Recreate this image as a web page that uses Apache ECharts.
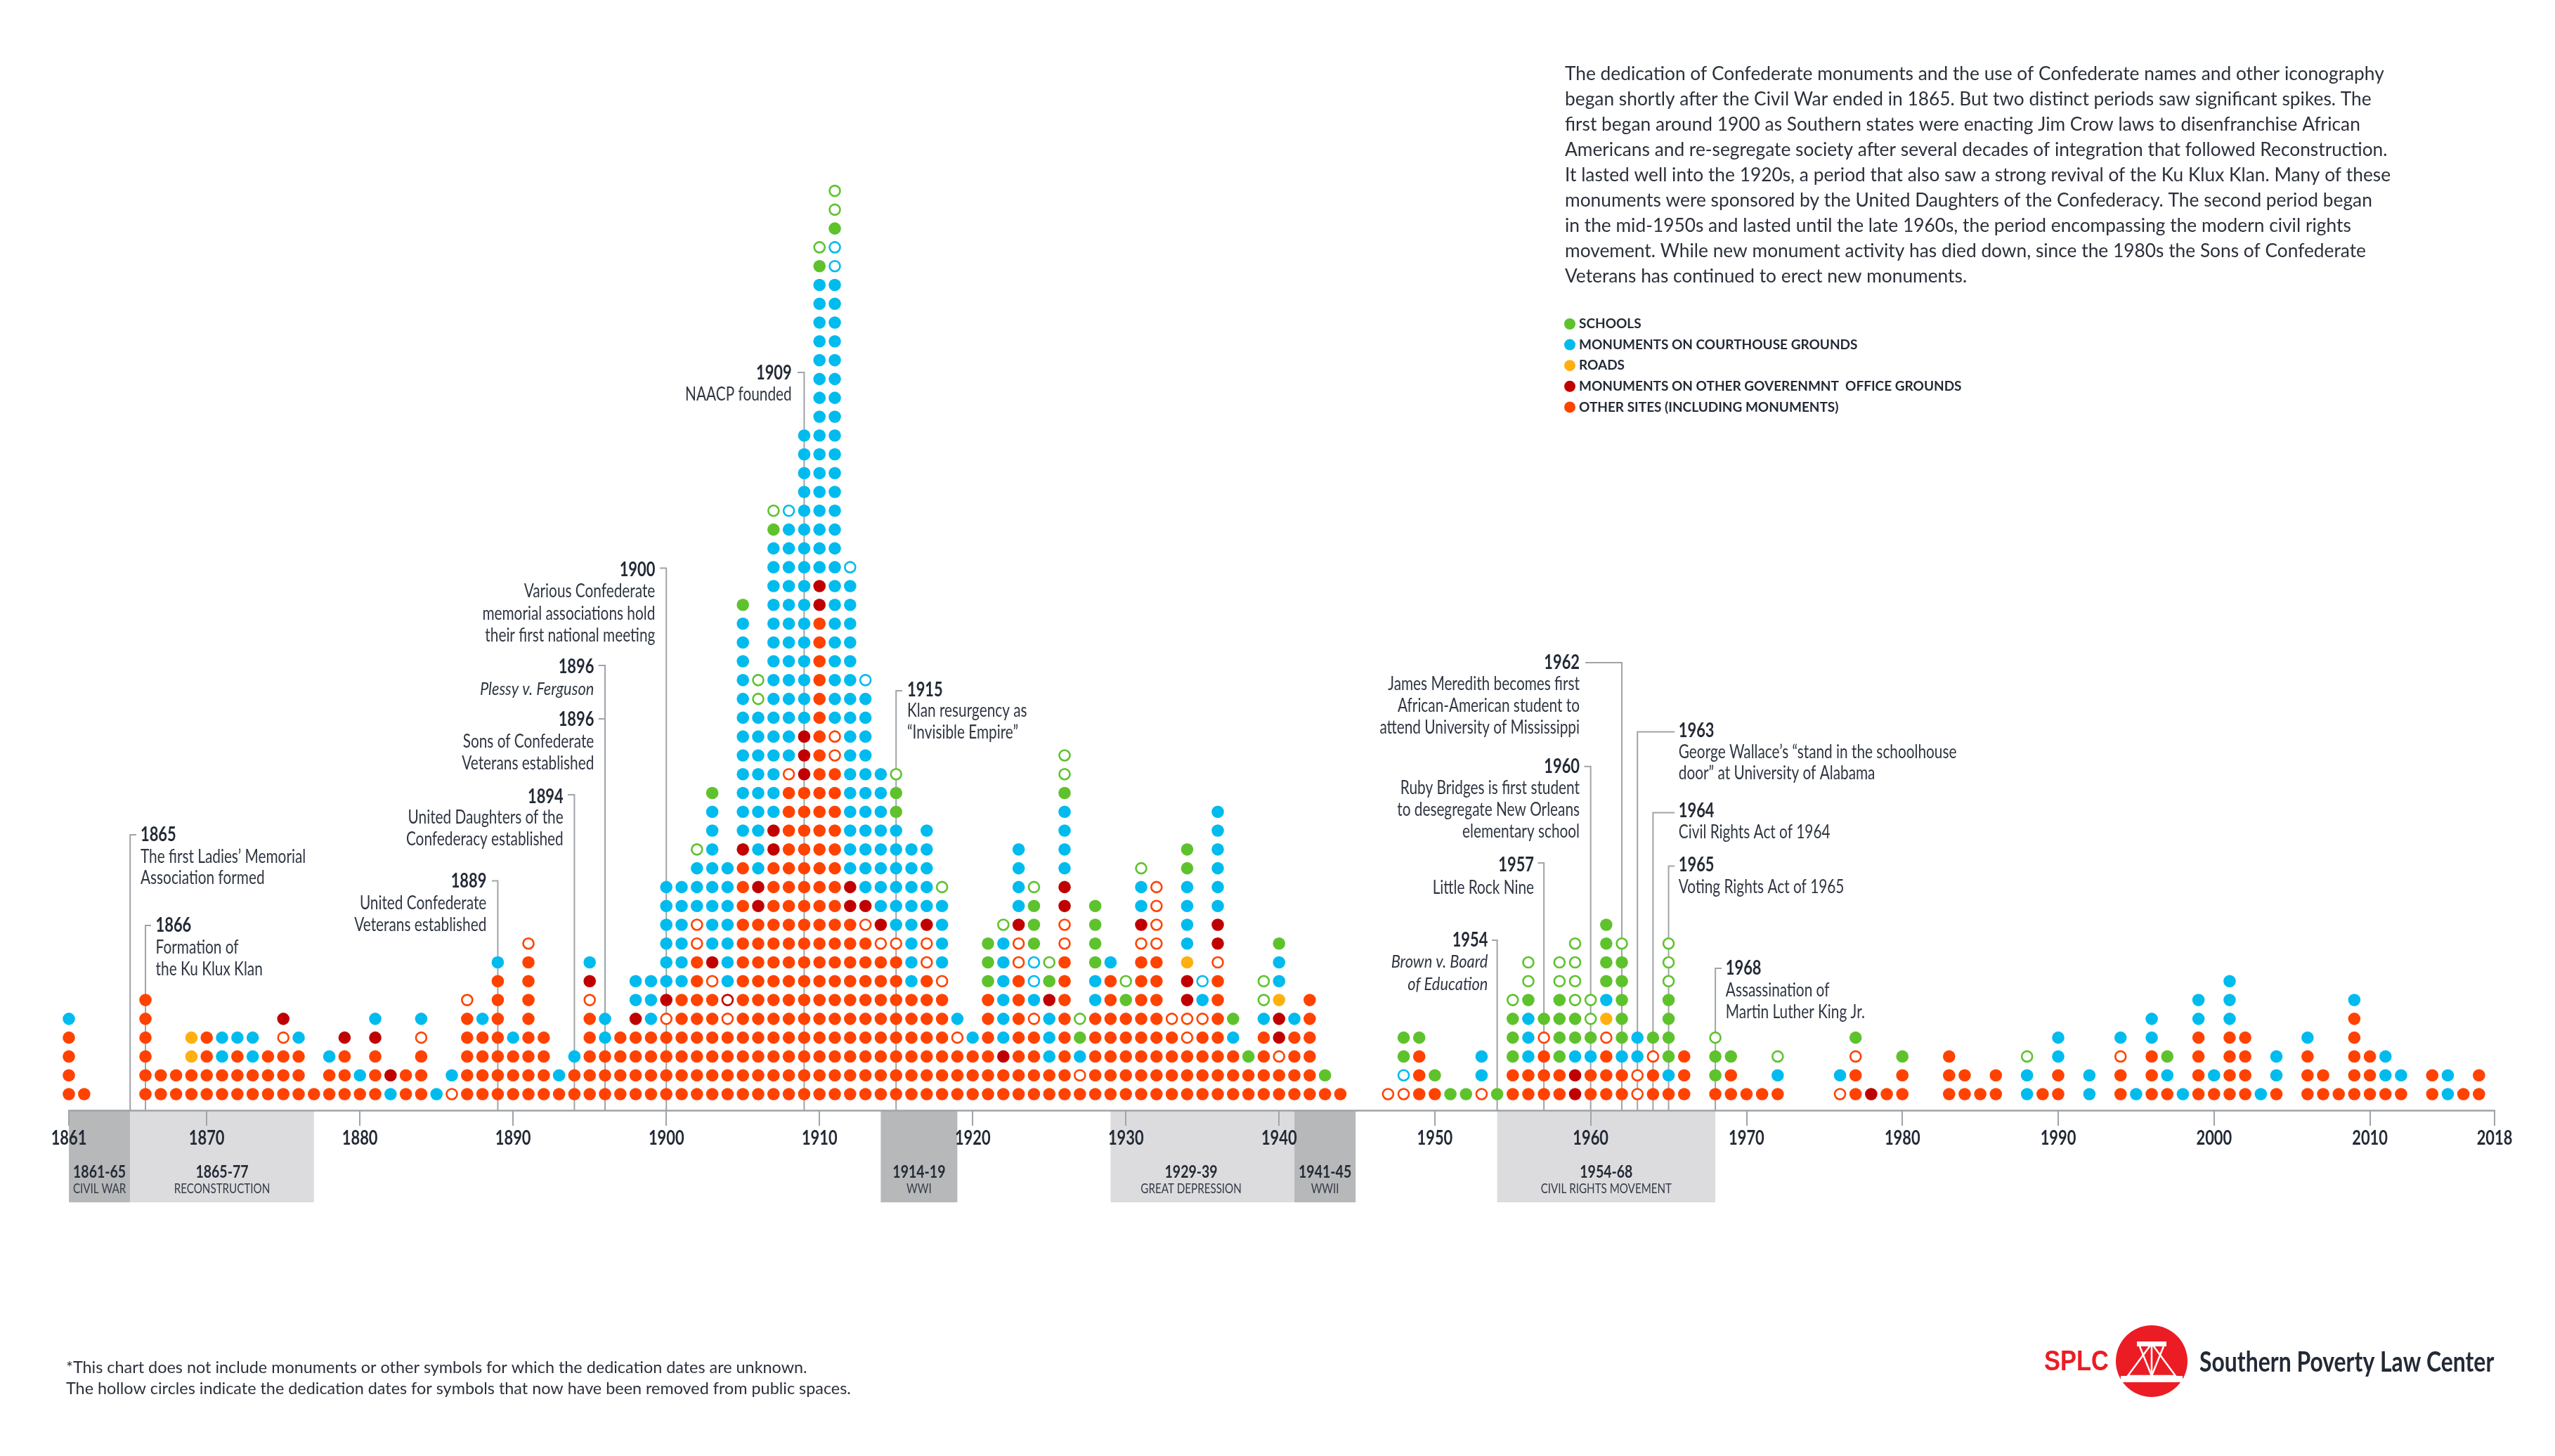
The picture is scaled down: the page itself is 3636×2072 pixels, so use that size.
<!DOCTYPE html>
<html><head><meta charset="utf-8">
<style>html,body{margin:0;padding:0;background:#fff}#c{width:3636px;height:2072px}</style>
<script src="https://cdn.jsdelivr.net/npm/echarts@6/dist/echarts.min.js"></script>
</head><body><div id="c"></div>
<script>
// O other sites, B courthouse, G schools, Y roads, D other government; lower case = hollow (removed). Bottom to top.
const years = [
1861,1862,1866,1867,1868,1869,1870,1871,1872,1873,1874,1875,1876,1877,1878,1879,1880,1881,1882,1883,1884,1885,1886,1887,1888,1889,1890,
1891,1892,1893,1894,1895,1896,1897,1898,1899,1900,1901,1902,1903,1904,1905,1906,1907,1908,1909,1910,1911,1912,1913,1914,1915,1916,1917,1918,1919,1920,
1921,1922,1923,1924,1925,1926,1927,1928,1929,1930,1931,1932,1933,1934,1935,1936,1937,1938,1939,1940,1941,1942,1943,1944,
1947,1948,1949,1950,1951,1952,1953,1954,1955,1956,1957,1958,1959,1960,1961,1962,1963,1964,1965,1966,1968,1969,1970,1971,1972,
1976,1977,1978,1979,1980,1983,1984,1985,1986,1988,1989,1990,1992,1994,1995,1996,1997,1998,1999,2000,2001,2002,2003,2004,2006,2007,2008,2009,2010,2011,2012,2014,2015,2016,2017];
const stacks = [
"OOOOB","O","OOOOOO","OO","OO","OOYY","OOOO","OOBB","OOOB","OOBB","OOO","OOOoD","OOOB","O","OOB","OOOD","OB","OOODB","BD","OO","OOOoB","B","oB","OOOOOo","OOOOB","OOOOOOOB","OOOB",
"OOOOOOOOo","OOOO","OB","OOB","OOOOOoDB","OOOBB","OOOO","OOOODBB","OOOOBBB","OOOOoDBBBBBB","OOOOOOBBBBBB","OOOOOOOOooBBBg","OOOOOOoDBBBBBBBBG","OOOOodBBBBBBB",
"OOOOOOOOOOOOODBBBBBBBBBBBBG","OOOOOOOOOODDBBBBBBBBBgg","OOOOOOOOOOOOODDBBBBBBBBBBBBBBBGg","OOOOOOOOOOOOOOOOOoBBBBBBBBBBBBBb","OOOOOOOOOOOOOOOOODDDBBBBBBBBBBBBBBBB",
"OOOOOOOOOOOOOOOOOOOOOOOOOODDBBBBBBBBBBBBBBBBGg","OOOOOOOOOOOOOOOOOOooBBBBBBBBBBBBBBBBBBBBBBBBbbGgg","OOOOOOOOOODDBBBBBBBBBBBBBBBBb","OOOOOOOOOoDBBBBBBBBBBBb","OOOOOOOOoDBBBBBBBB","OOOOOOOOoBBBBBBGGg","OOOOOOBBBBBBBB","OOOOOOOooDBBBBB","OOOOOOoBBBBg","OOOoB","OOOB",
"OOOOOOGGG","OODBBBBBBg","OOOOOOOooDBBBB","OOOOoBbbGGGg","OOBBBDGg","OOOOOOOOooDDBBBBGgg","OoBGg","OOOOOBBGGGG","OOOOOOOB","OOOOOGg","OOOOOOOOoDBBg","OOOOOOOOoooo","OOOOo","OOOooDDYBBBBGG","OOOOoBb","OOOOOOOoDDBBBBBB","OOOBG","OOG","OOOOBgg","OOoDDYBBG","OOOOB","OOOOOO","OG","O",
"o","obGG","OOOG","OG","G","G","oBB","G","OOGGGg","OOBBBGgg","OOOoG","OOGGGGgg","DDBGGgggg","OOBGgg","OOOoYBGGGG","OOBGGGGGg","ooBB","OOoG","OBGGGGggg","OOO","OGGg","OOG","O","O","OBg",
"oB","OOoG","D","O","OOG","OOO","OO","O","OO","BBg","O","OOBB","BB","OOoB","B","OOOBB","OBG","B","OOOOBB","OB","OOOOBBB","OOOO","B","OBB","OOOB","OO","O","OOOOOB","OOO","OBB","OB","OO","BB","O","OO"];
const categoryNames = {G:'SCHOOLS',B:'MONUMENTS ON COURTHOUSE GROUNDS',Y:'ROADS',D:'MONUMENTS ON OTHER GOVERENMNT  OFFICE GROUNDS',O:'OTHER SITES (INCLUDING MONUMENTS)'};
const tickLabelsLeft = [1861,1870,1880,1890,1900,1910,1920,1930,1940];
const tickLabelsRight = [1950,1960,1970,1980,1990,2000,2010,2018];
const periods = [
 {from:1861,to:1865,span:'1861-65',name:'CIVIL WAR',tone:'dark'},
 {from:1865,to:1877,span:'1865-77',name:'RECONSTRUCTION',tone:'light'},
 {from:1914,to:1919,span:'1914-19',name:'WWI',tone:'dark'},
 {from:1929,to:1941,span:'1929-39',name:'GREAT DEPRESSION',tone:'light'},
 {from:1941,to:1945,span:'1941-45',name:'WWII',tone:'dark'},
 {from:1954,to:1968,span:'1954-68',name:'CIVIL RIGHTS MOVEMENT',tone:'light'}];
const annotations = [
 {year:1865,title:'1865',lines:['The first Ladies\u2019 Memorial','Association formed']},
 {year:1866,title:'1866',lines:['Formation of','the Ku Klux Klan']},
 {year:1889,title:'1889',lines:['United Confederate','Veterans established']},
 {year:1894,title:'1894',lines:['United Daughters of the','Confederacy established']},
 {year:1896,title:'1896',lines:['Sons of Confederate','Veterans established']},
 {year:1896,title:'1896',lines:['Plessy v. Ferguson'],italic:true},
 {year:1900,title:'1900',lines:['Various Confederate','memorial associations hold','their first national meeting']},
 {year:1909,title:'1909',lines:['NAACP founded']},
 {year:1915,title:'1915',lines:['Klan resurgency as','\u201cInvisible Empire\u201d']},
 {year:1954,title:'1954',lines:['Brown v. Board','of Education'],italic:true},
 {year:1957,title:'1957',lines:['Little Rock Nine']},
 {year:1960,title:'1960',lines:['Ruby Bridges is first student','to desegregate New Orleans','elementary school']},
 {year:1962,title:'1962',lines:['James Meredith becomes first','African-American student to','attend University of Mississippi']},
 {year:1963,title:'1963',lines:['George Wallace\u2019s \u201cstand in the schoolhouse','door\u201d at University of Alabama']},
 {year:1964,title:'1964',lines:['Civil Rights Act of 1964']},
 {year:1965,title:'1965',lines:['Voting Rights Act of 1965']},
 {year:1968,title:'1968',lines:['Assassination of','Martin Luther King Jr.']}];
const bodyLines = [
 'The dedication of Confederate monuments and the use of Confederate names and other iconography',
 'began shortly after the Civil War ended in 1865. But two distinct periods saw significant spikes. The',
 'first began around 1900 as Southern states were enacting Jim Crow laws to disenfranchise African',
 'Americans and re-segregate society after several decades of integration that followed Reconstruction.',
 'It lasted well into the 1920s, a period that also saw a strong revival of the Ku Klux Klan. Many of these',
 'monuments were sponsored by the United Daughters of the Confederacy. The second period began',
 'in the mid-1950s and lasted until the late 1960s, the period encompassing the modern civil rights',
 'movement. While new monument activity has died down, since the 1980s the Sons of Confederate',
 'Veterans has continued to erect new monuments.'];
const footnotes = ['*This chart does not include monuments or other symbols for which the dedication dates are unknown.',
 'The hollow circles indicate the dedication dates for symbols that now have been removed from public spaces.'];

// ---------- layout and styles ----------
const colors = {O:'#ff4200',B:'#00bbee',G:'#5ec22d',Y:'#ffb00e',D:'#c00000'};
const axisY = 1580, axisGrey = '#9fa4a8', ink = '#232a36';
const FONT = 'Lato';
const SX = {title:0.78, line:0.80, italic:0.84, span:0.78, name:0.82, tick:0.78};
// per annotation: text anchor x, align, title y, line ys, leader top y, stub end x
const annotationLayout = [
 {x:200,a:'left',ty:1188,ly:[1220,1250],top:1188,stub:194},
 {x:221.6,a:'left',ty:1317,ly:[1349,1380],top:1317,stub:215},
 {x:692.3,a:'right',ty:1254,ly:[1285.7,1316.7],top:1253.5,stub:700},
 {x:801.7,a:'right',ty:1133.5,ly:[1164,1195],top:1131,stub:808},
 {x:845.3,a:'right',ty:1024,ly:[1055.5,1086.5],top:1023,stub:851.7},
 {x:845.3,a:'right',ty:949,ly:[980.4],top:947,stub:851.7},
 {x:932.3,a:'right',ty:810.6,ly:[842,873.5,904.5],top:808.6,stub:939},
 {x:1126.7,a:'right',ty:530.7,ly:[562],top:530,stub:1135},
 {x:1291,a:'left',ty:982,ly:[1012,1043],top:983,stub:1284},
 {x:2117.3,a:'right',ty:1338,ly:[1369,1401],top:1338,stub:2123},
 {x:2183,a:'right',ty:1231.4,ly:[1264],top:1228,stub:2188.6},
 {x:2248,a:'right',ty:1090.7,ly:[1121.8,1153,1184],top:1090.7,stub:2254.4},
 {x:2248,a:'right',ty:943,ly:[973.6,1005,1036],top:943,stub:2256},
 {x:2388.8,a:'left',ty:1039.6,ly:[1071,1101],top:1041.4,stub:2383},
 {x:2388.8,a:'left',ty:1154,ly:[1185],top:1156.4,stub:2383},
 {x:2388.8,a:'left',ty:1231,ly:[1263],top:1232.5,stub:2383},
 {x:2455.8,a:'left',ty:1378,ly:[1410,1441],top:1378,stub:2450}];

function dotSeries(code, gridIndex, hollow){
  const data = [];
  years.forEach((y,i)=>{
    if ((y<1945?0:1)!==gridIndex) return;
    [...stacks[i]].forEach((c,r)=>{ if(c===(hollow?code.toLowerCase():code)) data.push([y,r+1]); });
  });
  return {
    name: hollow ? categoryNames[code]+' (removed)' : categoryNames[code],
    type:'scatter', xAxisIndex:gridIndex, yAxisIndex:gridIndex, z:4, silent:true, clip:false,
    symbol:'circle', symbolSize: hollow?15:17.6,
    itemStyle: hollow ? {color:'#fff',borderColor:colors[code],borderWidth:2.6,opacity:1} : {color:colors[code],opacity:1},
    data
  };
}
function leaderSeries(gridIndex){
  const data = [];
  annotations.forEach((a,i)=>{ if((a.year<1945?0:1)===gridIndex) data.push([a.year,1,i]); });
  return {type:'custom',xAxisIndex:gridIndex,yAxisIndex:gridIndex,z:2,silent:true,clip:false,data,
    renderItem(p,api){
      const L = annotationLayout[api.value(2)], x = api.coord([api.value(0),1])[0];
      return {type:'polyline',shape:{points:[[L.stub,L.top],[x,L.top],[x,axisY]]},style:{fill:null,stroke:axisGrey,lineWidth:2}};
    }};
}
function condensed(text,x,y,font,fill,align,sx){
  return {type:'text',x,y,scaleX:sx,silent:true,style:{text,x:0,y:0,font,fill,textAlign:align,textVerticalAlign:'middle'}};
}
function periodSeries(gridIndex){
  const data = [];
  periods.forEach((p,i)=>{ if((p.from<1945?0:1)===gridIndex) data.push([p.from,p.to,i]); });
  return {type:'custom',xAxisIndex:gridIndex,yAxisIndex:gridIndex,z:0,silent:true,clip:false,data,encode:{x:[0,1]},
    renderItem(p,api){
      const P = periods[api.value(2)];
      const x0 = api.coord([api.value(0),1])[0], x1 = api.coord([api.value(1),1])[0];
      const cx = P.span==='1929-39' ? api.coord([1934.26,1])[0] : (x0+x1)/2;
      return {type:'group',children:[
        {type:'rect',shape:{x:x0,y:axisY,width:x1-x0,height:131},style:{fill:P.tone==='dark'?'#b7b8ba':'#dcdcde'}},
        condensed(P.span,cx,1668,'bold 25px '+FONT,ink,'center',SX.span),
        condensed(P.name,cx,1692,'18.5px '+FONT,'#343a46','center',SX.name)
      ]};
    }};
}
function tickLabelSeries(gridIndex,ticks){
  return {type:'custom',xAxisIndex:gridIndex,yAxisIndex:gridIndex,z:6,silent:true,clip:false,data:ticks.map(t=>[t,1]),
    renderItem(p,api){
      const v = api.value(0), x = api.coord([v,1])[0];
      return condensed(String(v),x,1620,'bold 28px '+FONT,ink,'center',SX.tick);
    }};
}
function xAxis(gridIndex,min,max,ticks){
  return {type:'value',gridIndex,min,max,position:'bottom',z:5,splitLine:{show:false},
    axisLine:{show:true,onZero:false,lineStyle:{color:axisGrey,width:2.5}},
    axisTick:{show:true,length:22,customValues:ticks,lineStyle:{color:axisGrey,width:2}},
    axisLabel:{show:false}};
}
function textEl(text,x,y,font,fill,align,sx){
  const e = condensed(text,x,y,font,fill||ink,align||'left',sx||1); e.z=10; return e;
}
const graphics = [];
annotations.forEach((a,i)=>{
  const L = annotationLayout[i];
  graphics.push(textEl(a.title,L.x,L.ty,'bold 28px '+FONT,ink,L.a,SX.title));
  a.lines.forEach((t,k)=>graphics.push(textEl(t,L.x,L.ly[k],(a.italic?'italic ':'')+'26px '+FONT,'#2f3642',L.a,a.italic?SX.italic:SX.line)));
});
bodyLines.forEach((t,i)=>graphics.push(textEl(t,2227,105.4+i*36,'26px '+FONT,'#2b303b','left',1.012)));
footnotes.forEach((t,i)=>graphics.push(textEl(t,94,1946.7+i*30.3,'23px '+FONT,'#2b303b','left',1.017)));
// SPLC mark
graphics.push(textEl('SPLC',2909,1939,'bold 40px "Liberation Sans"','#ec1c24','left',0.86));
graphics.push(textEl('Southern Poverty Law Center',3130,1939,'bold 40px '+FONT,ink,'left',0.798));
graphics.push({type:'circle',silent:true,z:10,shape:{cx:3062,cy:1937,r:51},style:{fill:'#ec1c24'}});
[[[3041,1909],[3083,1909],[3083,1916],[3041,1916]],[[3018,1958],[3106,1958],[3106,1967],[3018,1967]]].forEach(pts=>
  graphics.push({type:'polygon',silent:true,z:11,shape:{points:pts},style:{fill:'#fff'}}));
[[[3062,1912],[3028,1958],[3096,1958],[3062,1912]],[[3045,1916],[3062,1958],[3079,1916]],[[3062,1916],[3062,1958]]].forEach(pts=>
  graphics.push({type:'polyline',silent:true,z:11,shape:{points:pts},style:{fill:null,stroke:'#fff',lineWidth:2.5}}));

const series = [periodSeries(0),periodSeries(1),leaderSeries(0),leaderSeries(1),tickLabelSeries(0,tickLabelsLeft),tickLabelSeries(1,tickLabelsRight)];
['O','B','G','Y','D'].forEach(c=>{ [0,1].forEach(g=>{ series.push(dotSeries(c,g,false)); series.push(dotSeries(c,g,true)); }); });

const chart = echarts.init(document.getElementById('c'),null,{renderer:'canvas',width:3636,height:2072});
const yA = g=>({type:'value',gridIndex:g,min:0.14,max:50,show:false,splitLine:{show:false}});
chart.setOption({
  animation:false, backgroundColor:'#fff',
  grid:[{left:98,top:244.8,width:1833.4,height:1335.2},{left:1931,top:244.8,width:1619,height:1335.2}],
  xAxis:[xAxis(0,1861,1945.1,tickLabelsLeft),xAxis(1,1945,2018,tickLabelsRight)],
  yAxis:[yA(0),yA(1)],
  legend:{show:true,orient:'vertical',left:2226,top:451.5,itemWidth:16,itemHeight:16,itemGap:10.6,icon:'circle',selectedMode:false,padding:0,
    data:['G','B','Y','D','O'].map(c=>categoryNames[c]),
    textStyle:{fontFamily:FONT,fontWeight:'bold',fontSize:19,color:ink}},
  graphic:graphics,
  series
});
</script></body></html>
